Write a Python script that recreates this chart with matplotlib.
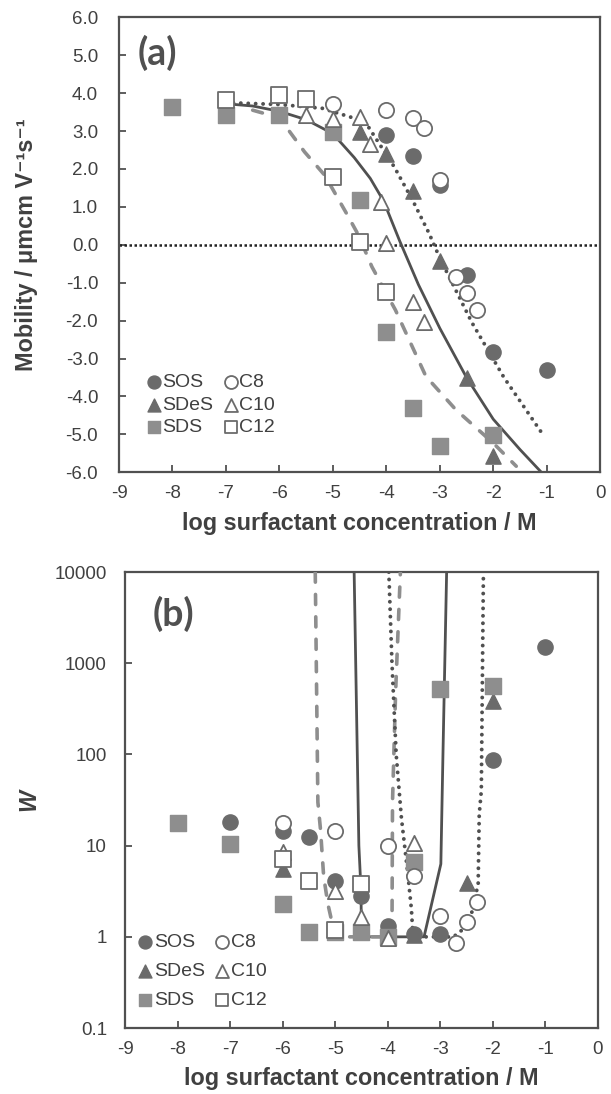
import numpy as np
import matplotlib
matplotlib.use("Agg")
import matplotlib.pyplot as plt
from matplotlib.ticker import FixedLocator, NullLocator

plt.rcParams['font.family'] = ['Liberation Sans', 'DejaVu Sans']

# ---------------- panel (a): mobility ----------------
sos_a_x = [-4, -3.5, -3, -2.5, -2, -1]
sos_a_y = [2.89, 2.33, 1.57, -0.80, -2.82, -3.30]
sdes_a_x = [-4.5, -4, -3.5, -3, -2.5, -2]
sdes_a_y = [2.97, 2.40, 1.42, -0.42, -3.52, -5.58]
sds_a_x = [-8, -7, -6, -5, -4.5, -4, -3.5, -3, -2]
sds_a_y = [3.63, 3.41, 3.41, 2.97, 1.18, -2.29, -4.31, -5.32, -5.01]
c8_a_x = [-5, -4, -3.5, -3.3, -3, -2.7, -2.5, -2.3]
c8_a_y = [3.72, 3.55, 3.35, 3.08, 1.72, -0.84, -1.28, -1.72]
c10_a_x = [-5.5, -5, -4.5, -4.3, -4.1, -4, -3.5, -3.3]
c10_a_y = [3.41, 3.33, 3.37, 2.67, 1.13, 0.04, -1.50, -2.03]
c12_a_x = [-7, -6, -5.5, -5, -4.5, -4]
c12_a_y = [3.81, 3.94, 3.85, 1.79, 0.08, -1.24]

solid_a_x = [-7.0, -6.5, -6.0, -5.5, -5.0, -4.6, -4.3, -4.05, -3.75, -3.4, -3.0, -2.5, -2.0, -1.5, -1.1]
solid_a_y = [3.72, 3.66, 3.52, 3.3, 2.93, 2.3, 1.75, 1.15, 0.1, -1.05, -2.2, -3.5, -4.6, -5.4, -6.0]
dash_a_x = [-6.5, -6.0, -5.53, -5.15, -4.71, -4.52, -4.27, -3.83, -3.26, -2.7, -2.0, -1.57]
dash_a_y = [3.55, 3.35, 2.45, 1.83, 0.74, 0.25, -0.58, -1.72, -3.47, -4.35, -5.23, -5.84]
dot_a_x = [-7, -6, -5.2, -4.4, -3.85, -3.5, -3.2, -3.0, -2.4, -1.8, -1.05]
dot_a_y = [3.75, 3.7, 3.6, 3.25, 2.05, 1.15, 0.3, -0.35, -2.05, -3.5, -5.05]

# ---------------- panel (b): stability ratio W ----------------
sos_b_x = [-7, -6, -5.5, -5, -4.5, -4, -3.5, -3, -2, -1]
sos_b_y = [18, 14.5, 12.4, 4.1, 2.8, 1.3, 1.08, 1.08, 88, 1520]
sdes_b_x = [-6, -3.5, -2.5, -2]
sdes_b_y = [5.5, 1.05, 3.9, 390]
sds_b_x = [-8, -7, -6, -5.5, -5, -4.5, -4, -3.5, -3, -2]
sds_b_y = [17.8, 10.5, 2.3, 1.13, 1.13, 1.13, 1.0, 6.6, 516, 570]
c8_b_x = [-6, -5, -4, -3.5, -3, -2.7, -2.5, -2.3]
c8_b_y = [17.5, 14.5, 10, 4.7, 1.7, 0.86, 1.45, 2.4]
c10_b_x = [-6, -5, -4.5, -4, -3.5]
c10_b_y = [8.5, 3.2, 1.65, 0.97, 10.8]
c12_b_x = [-6, -5.5, -5, -4.5]
c12_b_y = [7.2, 4.1, 1.2, 3.8]

dash_b_x = [-5.38, -5.33, -5.28, -5.22, -5.14, -5.0, -4.0, -3.92, -3.91, -3.85, -3.76]
dash_b_y = [10000, 30, 15, 4.6, 2.3, 1.0, 1.0, 1.05, 30, 500, 10000]
solid_b_x = [-4.64, -4.55, -4.51, -4.5, -3.31, -2.99, -2.95, -2.88]
solid_b_y = [10000, 10, 3.3, 1.0, 1.0, 6.3, 100, 10000]
dot_b_x = [-3.98, -3.92, -3.84, -3.74, -3.62, -3.55, -3.52, -2.75, -2.5, -2.42, -2.28, -2.26, -2.22, -2.18]
dot_b_y = [10000, 1000, 100, 20, 5, 2, 1.0, 1.0, 1.3, 1.66, 3.8, 22, 40, 10000]

xticks = [-9, -8, -7, -6, -5, -4, -3, -2, -1, 0]

dark = '#6b6b6b'
light = '#8e8e8e'
edge = '#6b6b6b'
txt = '#404040'
ms = 120


def draw_points(ax, data):
    (sx, sy), (tx, ty), (qx, qy), (cx, cy), (ux, uy), (px, py) = data
    ax.scatter(sx, sy, s=ms, marker='o', color=dark, zorder=4, label='SOS')
    ax.scatter(tx, ty, s=ms, marker='^', color=dark, zorder=4, label='SDeS')
    ax.scatter(qx, qy, s=ms, marker='s', color=light, zorder=4, label='SDS')
    ax.scatter(cx, cy, s=ms, marker='o', facecolor='white', edgecolor=edge, linewidth=1.3, zorder=5, label='C8')
    ax.scatter(ux, uy, s=ms, marker='^', facecolor='white', edgecolor=edge, linewidth=1.3, zorder=5, label='C10')
    ax.scatter(px, py, s=ms, marker='s', facecolor='white', edgecolor=edge, linewidth=1.3, zorder=5, label='C12')


def draw_lines(ax, solid, dash, dot):
    ax.plot(*solid, color='#505050', linewidth=2, zorder=3)
    ax.plot(*dash, color='#8e8e8e', linewidth=2.6, linestyle=(0, (2.8, 3.4)),
            dash_capstyle='round', zorder=3)
    ax.plot(*dot, color='#505050', linewidth=2.8, linestyle=(0, (0.01, 1.9)),
            dash_capstyle='round', zorder=3)


def style(ax):
    for sp in ax.spines.values():
        sp.set_color('#505050')
        sp.set_linewidth(1.6)
    ax.tick_params(direction='in', length=5, width=1.3, color='#505050',
                   labelsize=13.5, labelcolor=txt)
    ax.tick_params(axis='x', pad=9)
    ax.set_xlim(-9, 0)
    ax.set_xticks(xticks)
    ax.set_xticklabels([str(t) for t in xticks])
    ax.set_xlabel('log surfactant concentration / M', fontsize=16.8, fontweight='bold',
                  color=txt, labelpad=7)


fig = plt.figure(figsize=(6.11, 10.94), dpi=100)

# (a)
ax1 = fig.add_axes([0.1948, 0.5683, 0.7875, 0.4159])
ax1.axhline(0, color='#222222', linestyle=(0, (1, 1)), linewidth=1.8, zorder=2)
draw_lines(ax1, (solid_a_x, solid_a_y), (dash_a_x, dash_a_y), (dot_a_x, dot_a_y))
draw_points(ax1, [(sos_a_x, sos_a_y), (sdes_a_x, sdes_a_y), (sds_a_x, sds_a_y),
                  (c8_a_x, c8_a_y), (c10_a_x, c10_a_y), (c12_a_x, c12_a_y)])
style(ax1)
ax1.set_ylim(-6, 6)
yt = np.arange(-6, 6.5, 1.0)
ax1.set_yticks(yt)
ax1.set_yticklabels(['%.1f' % v for v in yt])
ax1.tick_params(axis='y', pad=15)
ax1.set_ylabel('Mobility / μmcm V⁻¹s⁻¹', fontsize=16.8, fontweight='bold', color=txt, labelpad=20)
ax1.text(0.039, 0.921, '(a)', transform=ax1.transAxes, fontsize=27, fontweight='bold',
         family='Lato', color='#505050', va='center')
ax1.legend(loc='lower left', bbox_to_anchor=(0.03, 0.062), ncol=2, frameon=False,
           fontsize=14, handletextpad=-0.2, columnspacing=0.22, labelspacing=0.25,
           borderaxespad=0, handlelength=1.3, labelcolor=txt, markerscale=0.85)

# (b)
ax2 = fig.add_axes([0.2046, 0.0603, 0.7741, 0.4168])
draw_lines(ax2, (solid_b_x, solid_b_y), (dash_b_x, dash_b_y), (dot_b_x, dot_b_y))
draw_points(ax2, [(sos_b_x, sos_b_y), (sdes_b_x, sdes_b_y), (sds_b_x, sds_b_y),
                  (c8_b_x, c8_b_y), (c10_b_x, c10_b_y), (c12_b_x, c12_b_y)])
style(ax2)
ax2.set_yscale('log')
ax2.set_ylim(0.1, 10000)
ax2.yaxis.set_major_locator(FixedLocator([0.1, 1, 10, 100, 1000, 10000]))
ax2.yaxis.set_minor_locator(NullLocator())
ax2.set_yticklabels(['0.1', '1', '10', '100', '1000', '10000'])
ax2.tick_params(axis='y', pad=13)
ax2.set_ylabel('W', fontsize=16.8, fontweight='bold', style='italic', color=txt, labelpad=10)
ax2.text(0.059, 0.909, '(b)', transform=ax2.transAxes, fontsize=27, fontweight='bold',
         family='Lato', color='#505050', va='center')
ax2.legend(loc='lower left', bbox_to_anchor=(0.0, 0.025), ncol=2, frameon=False,
           fontsize=14, handletextpad=-0.2, columnspacing=0.22, labelspacing=0.58,
           borderaxespad=0, handlelength=1.3, labelcolor=txt, markerscale=0.85)

fig.savefig('out.png', dpi=100)
